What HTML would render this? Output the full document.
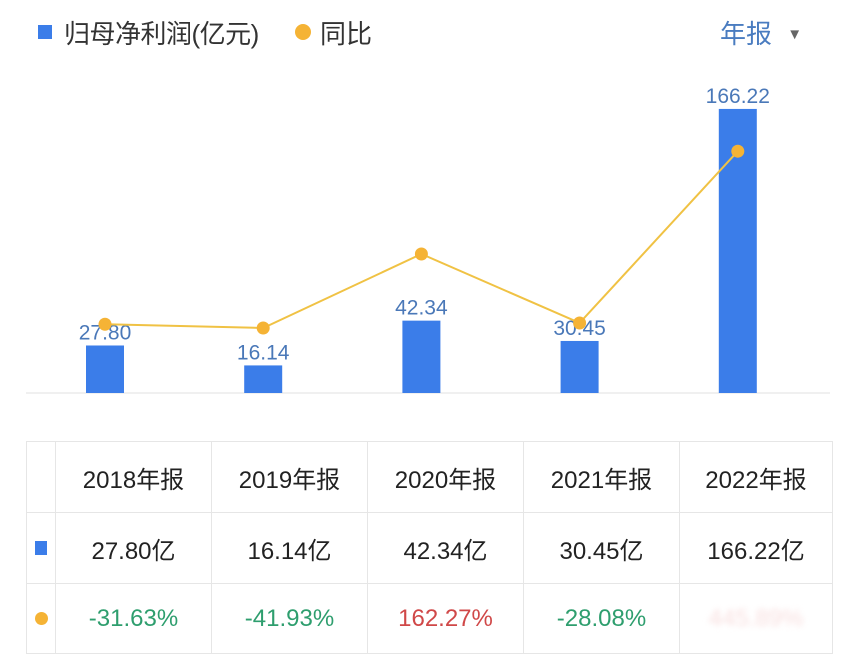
<!DOCTYPE html>
<html><head><meta charset="utf-8"><style>
body{margin:0;width:852px;height:672px;background:#fff;font-family:"Liberation Sans","Noto Sans CJK SC",sans-serif;overflow:hidden;position:relative}
.abs{position:absolute}
table{position:absolute;left:26px;top:441px;border-collapse:collapse;}
td{border:1px solid #e6e6e6;text-align:center;font-size:24px;color:#222;padding:0;}
</style></head><body>
<div class="abs" style="left:38px;top:25px;width:14px;height:14px;background:#3b7de9"></div>
<div class="abs" style="left:64px;top:14px;font-size:26px;color:#333;letter-spacing:-0.5px">归母净利润(亿元)</div>
<div class="abs" style="left:295px;top:24px;width:16px;height:16px;border-radius:50%;background:#f5b335"></div>
<div class="abs" style="left:320px;top:14px;font-size:26px;color:#333">同比</div>
<div class="abs" style="left:720px;top:14px;font-size:26px;color:#4a7cc0">年报 <span style="font-size:15px;color:#666;position:relative;top:-4px;left:8px">▼</span></div>
<svg id="chart" class="abs" style="left:0;top:0" width="852" height="430"></svg>
<table>
<tr style="height:71px"><td style="width:28px"></td><td style="width:155px">2018年报</td><td style="width:155px">2019年报</td><td style="width:155px">2020年报</td><td style="width:155px">2021年报</td><td style="width:152px">2022年报</td></tr>
<tr style="height:71px"><td><div style="width:12px;height:14px;background:#3b7de9;margin:auto"></div></td><td>27.80亿</td><td>16.14亿</td><td>42.34亿</td><td>30.45亿</td><td>166.22亿</td></tr>
<tr style="height:70px"><td><div style="width:13px;height:13px;border-radius:50%;background:#f5b335;margin:auto"></div></td><td style="color:#2e9e6e">-31.63%</td><td style="color:#2e9e6e">-41.93%</td><td style="color:#d04848">162.27%</td><td style="color:#2e9e6e">-28.08%</td><td><span style="color:#f8dede;filter:blur(3px)">445.89%</span></td></tr>
</table>
<script>
const categories=["2018","2019","2020","2021","2022"];
const profit=[27.80,16.14,42.34,30.45,166.22];
const yoy=[-31.63,-41.93,162.27,-28.08,445.89];
const labels=["27.80","16.14","42.34","30.45","166.22"];
const NS="http://www.w3.org/2000/svg";
const svg=document.getElementById('chart');
const base=393;
const xPos=i=>105+i*158.2;
const yBar=v=>base-v*1.709;
const yLine=v=>312.8-v*0.3624;
function mk(t,a){const e=document.createElementNS(NS,t);for(const k in a)e.setAttribute(k,a[k]);svg.appendChild(e);return e;}
const ax=mk('line',{x1:26,x2:830,y1:base,y2:base,stroke:'#e0e0e0','stroke-width':1});


profit.forEach((v,i)=>{
 const r=mk('rect',{x:xPos(i)-19,y:yBar(v),width:38,height:base-yBar(v),fill:'#3b7de9'});
 
 
 const t=mk('text',{x:xPos(i),y:yBar(v)-6,'text-anchor':'middle','font-size':21,fill:'#4a78b8','font-family':'Liberation Sans, sans-serif'});
 t.textContent=labels[i];
 
 
});
const pl=mk('polyline',{points:yoy.map((v,i)=>xPos(i)+','+yLine(v)).join(' '),fill:'none',stroke:'#f0c244','stroke-width':2});


yoy.forEach((v,i)=>{
 const c=mk('circle',{cx:xPos(i),cy:yLine(v),r:6.5,fill:'#f5b335'});
 
 
});
</script>
</body></html>
